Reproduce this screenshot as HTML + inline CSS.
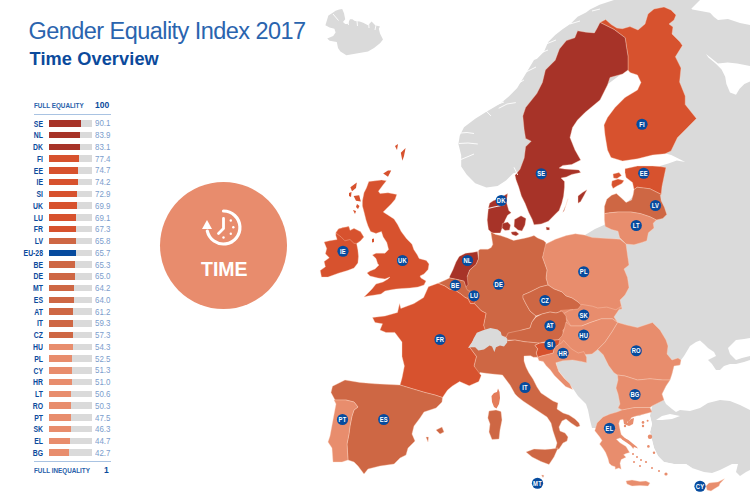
<!DOCTYPE html>
<html><head><meta charset="utf-8"><style>
html,body{margin:0;padding:0;background:#fff;}
body{width:750px;height:500px;position:relative;overflow:hidden;font-family:"Liberation Sans",sans-serif;}
.t1{position:absolute;left:28.5px;top:17.7px;font-size:23.5px;color:#2a64ae;white-space:nowrap;letter-spacing:-0.55px;}
.t2{position:absolute;left:29.5px;top:48.6px;font-size:18.2px;font-weight:bold;color:#0b4a9c;white-space:nowrap;letter-spacing:0.1px;}
.fe{position:absolute;left:34px;font-size:7px;font-weight:bold;color:#2860aa;white-space:nowrap;transform:scaleX(0.9);transform-origin:0 0;}
.fv{position:absolute;font-size:8.5px;font-weight:bold;color:#0b4a9c;}
.hl{position:absolute;left:34px;width:77px;height:1px;background:#a9c3e2;}
.rl{position:absolute;left:2.5px;width:40px;text-align:right;font-size:8.8px;font-weight:bold;color:#0b4a9c;white-space:nowrap;transform:scaleX(0.78);transform-origin:100% 0;}
.bg{position:absolute;left:48.7px;width:42.9px;height:6.5px;background:#dadada;}
.bf{position:absolute;left:48.7px;height:6.5px;}
.rv{position:absolute;left:95px;font-size:9px;color:#7b9dcc;transform:scaleX(0.88);transform-origin:0 0;}
.circ{position:absolute;left:159.5px;top:181.5px;width:127.6px;height:127.6px;border-radius:50%;background:#e88c6d;}
.time{position:absolute;left:201px;top:258px;font-size:19.5px;font-weight:bold;color:#fff;}
svg{position:absolute;left:0;top:0;}
.lb{font-family:"Liberation Sans",sans-serif;font-size:7.3px;letter-spacing:0.2px;font-weight:bold;fill:#fff;text-anchor:middle;}
</style></head><body>
<div class="t1">Gender Equality Index 2017</div>
<div class="t2">Time Overview</div>
<div class="fe" style="top:102px">FULL EQUALITY</div>
<div class="fv" style="left:95px;top:100px">100</div>
<div class="hl" style="top:114px"></div>
<div class="rl" style="top:118.50px">SE</div><div class="bg" style="top:120.10px"></div><div class="bf" style="top:120.10px;width:32.10px;background:#a73328"></div><div class="rv" style="top:118.40px">90.1</div><div class="rl" style="top:130.26px">NL</div><div class="bg" style="top:131.86px"></div><div class="bf" style="top:131.86px;width:31.50px;background:#a73328"></div><div class="rv" style="top:130.16px">83.9</div><div class="rl" style="top:142.03px">DK</div><div class="bg" style="top:143.63px"></div><div class="bf" style="top:143.63px;width:30.90px;background:#a73328"></div><div class="rv" style="top:141.93px">83.1</div><div class="rl" style="top:153.79px">FI</div><div class="bg" style="top:155.39px"></div><div class="bf" style="top:155.39px;width:30.35px;background:#d7522e"></div><div class="rv" style="top:153.69px">77.4</div><div class="rl" style="top:165.56px">EE</div><div class="bg" style="top:167.16px"></div><div class="bf" style="top:167.16px;width:29.50px;background:#d7522e"></div><div class="rv" style="top:165.46px">74.7</div><div class="rl" style="top:177.32px">IE</div><div class="bg" style="top:178.92px"></div><div class="bf" style="top:178.92px;width:29.00px;background:#d7522e"></div><div class="rv" style="top:177.22px">74.2</div><div class="rl" style="top:189.08px">SI</div><div class="bg" style="top:190.68px"></div><div class="bf" style="top:190.68px;width:28.40px;background:#d7522e"></div><div class="rv" style="top:188.98px">72.9</div><div class="rl" style="top:200.85px">UK</div><div class="bg" style="top:202.45px"></div><div class="bf" style="top:202.45px;width:28.10px;background:#d7522e"></div><div class="rv" style="top:200.75px">69.9</div><div class="rl" style="top:212.61px">LU</div><div class="bg" style="top:214.21px"></div><div class="bf" style="top:214.21px;width:27.60px;background:#d7522e"></div><div class="rv" style="top:212.51px">69.1</div><div class="rl" style="top:224.38px">FR</div><div class="bg" style="top:225.98px"></div><div class="bf" style="top:225.98px;width:27.50px;background:#d7522e"></div><div class="rv" style="top:224.28px">67.3</div><div class="rl" style="top:236.14px">LV</div><div class="bg" style="top:237.74px"></div><div class="bf" style="top:237.74px;width:27.30px;background:#ce6744"></div><div class="rv" style="top:236.04px">65.8</div><div class="rl" style="top:247.90px">EU-28</div><div class="bg" style="top:249.50px"></div><div class="bf" style="top:249.50px;width:27.20px;background:#064b9e"></div><div class="rv" style="top:247.80px">65.7</div><div class="rl" style="top:259.67px">BE</div><div class="bg" style="top:261.27px"></div><div class="bf" style="top:261.27px;width:26.40px;background:#ce6744"></div><div class="rv" style="top:259.57px">65.3</div><div class="rl" style="top:271.43px">DE</div><div class="bg" style="top:273.03px"></div><div class="bf" style="top:273.03px;width:26.10px;background:#ce6744"></div><div class="rv" style="top:271.33px">65.0</div><div class="rl" style="top:283.20px">MT</div><div class="bg" style="top:284.80px"></div><div class="bf" style="top:284.80px;width:25.50px;background:#ce6744"></div><div class="rv" style="top:283.10px">64.2</div><div class="rl" style="top:294.96px">ES</div><div class="bg" style="top:296.56px"></div><div class="bf" style="top:296.56px;width:25.30px;background:#ce6744"></div><div class="rv" style="top:294.86px">64.0</div><div class="rl" style="top:306.72px">AT</div><div class="bg" style="top:308.32px"></div><div class="bf" style="top:308.32px;width:24.70px;background:#ce6744"></div><div class="rv" style="top:306.62px">61.2</div><div class="rl" style="top:318.49px">IT</div><div class="bg" style="top:320.09px"></div><div class="bf" style="top:320.09px;width:24.30px;background:#ce6744"></div><div class="rv" style="top:318.39px">59.3</div><div class="rl" style="top:330.25px">CZ</div><div class="bg" style="top:331.85px"></div><div class="bf" style="top:331.85px;width:24.00px;background:#ce6744"></div><div class="rv" style="top:330.15px">57.3</div><div class="rl" style="top:342.02px">HU</div><div class="bg" style="top:343.62px"></div><div class="bf" style="top:343.62px;width:24.00px;background:#e88d6d"></div><div class="rv" style="top:341.92px">54.3</div><div class="rl" style="top:353.78px">PL</div><div class="bg" style="top:355.38px"></div><div class="bf" style="top:355.38px;width:23.50px;background:#e88d6d"></div><div class="rv" style="top:353.68px">52.5</div><div class="rl" style="top:365.54px">CY</div><div class="bg" style="top:367.14px"></div><div class="bf" style="top:367.14px;width:23.50px;background:#e88d6d"></div><div class="rv" style="top:365.44px">51.3</div><div class="rl" style="top:377.31px">HR</div><div class="bg" style="top:378.91px"></div><div class="bf" style="top:378.91px;width:23.20px;background:#e88d6d"></div><div class="rv" style="top:377.21px">51.0</div><div class="rl" style="top:389.07px">LT</div><div class="bg" style="top:390.67px"></div><div class="bf" style="top:390.67px;width:22.60px;background:#e88d6d"></div><div class="rv" style="top:388.97px">50.6</div><div class="rl" style="top:400.84px">RO</div><div class="bg" style="top:402.44px"></div><div class="bf" style="top:402.44px;width:22.60px;background:#e88d6d"></div><div class="rv" style="top:400.74px">50.3</div><div class="rl" style="top:412.60px">PT</div><div class="bg" style="top:414.20px"></div><div class="bf" style="top:414.20px;width:22.35px;background:#e88d6d"></div><div class="rv" style="top:412.50px">47.5</div><div class="rl" style="top:424.36px">SK</div><div class="bg" style="top:425.96px"></div><div class="bf" style="top:425.96px;width:22.10px;background:#e88d6d"></div><div class="rv" style="top:424.26px">46.3</div><div class="rl" style="top:436.13px">EL</div><div class="bg" style="top:437.73px"></div><div class="bf" style="top:437.73px;width:21.20px;background:#e88d6d"></div><div class="rv" style="top:436.03px">44.7</div><div class="rl" style="top:447.89px">BG</div><div class="bg" style="top:449.49px"></div><div class="bf" style="top:449.49px;width:20.50px;background:#e88d6d"></div><div class="rv" style="top:447.79px">42.7</div>
<div class="hl" style="top:461px"></div>
<div class="fe" style="top:467px">FULL INEQUALITY</div>
<div class="fv" style="left:104px;top:465px">1</div>
<div class="circ"></div>
<svg width="750" height="500" viewBox="0 0 750 500">
<g fill="none" stroke="#fff" stroke-width="3.2" stroke-linecap="round">
<path d="M223.5 211 A16.5 16.5 0 1 1 207.3 231"/>
<path d="M223.5 218.5 V228.5 L218.5 233.5" stroke-width="2.8" stroke-linejoin="round"/>
</g>
<polygon points="207,220 202,229 212,229" fill="#fff"/>
<g fill="#fff"><circle cx="230.8" cy="220.5" r="1.2"/><circle cx="233.3" cy="227.2" r="1.2"/><circle cx="230.8" cy="233.8" r="1.2"/><circle cx="223.5" cy="237.5" r="1.2"/></g>
<polygon points="325.4,25.2 328.4,15.6 332.0,13.2 335.6,10.8 339.2,9.6 342.2,9.0 344.0,13.2 345.2,19.2 343.0,22.0 345.2,24.0 347.6,24.0 350.0,19.2 352.4,19.2 354.8,21.0 359.6,21.6 363.2,22.8 368.0,25.2 371.6,21.6 375.2,25.2 380.0,26.4 378.8,28.8 380.0,33.6 383.0,39.6 380.0,43.2 374.0,48.0 368.0,51.6 360.8,52.8 353.6,54.0 346.4,55.2 340.4,51.6 338.0,48.0 336.8,42.0 329.6,40.8 327.2,38.4 333.2,36.0 335.6,32.4 334.4,28.8 329.6,27.6" fill="#dadada"/><polygon points="517.2,172.0 513.0,173.4 506.0,180.4 497.6,186.0 486.4,187.4 475.2,183.2 466.8,174.8 461.2,166.4 461.2,155.2 458.4,144.0 459.8,135.6 464.0,127.2 475.2,118.8 486.4,111.8 500.4,103.4 508.8,96.4 517.2,88.0 525.6,74.0 534.0,60.0 537.0,58.8 544.0,51.8 548.2,42.0 555.2,35.0 562.2,29.4 570.6,23.8 577.6,16.8 586.0,12.6 590.0,9.6 599.6,4.8 614.0,0.0 700.0,0.0 640.0,60.0 560.0,120.0 530.0,160.0" fill="#dadada"/><polygon points="670.0,0.0 686.0,0.0 686.0,4.8 692.4,9.6 702.0,11.2 710.0,12.8 714.0,17.0 718.0,20.0 728.0,19.0 740.0,23.0 750.0,25.0 750.0,470.0 746.0,472.0 740.0,476.0 736.0,472.0 738.0,464.0 732.0,464.0 720.0,470.0 712.0,473.0 704.0,472.0 692.0,468.0 686.0,464.0 674.0,464.0 664.0,462.0 658.0,456.0 654.0,448.0 652.0,440.0 650.0,432.0 652.0,424.0 650.0,416.0 640.0,420.0 600.0,437.0 596.0,428.0 592.0,428.0 590.0,420.0 588.0,410.0 586.0,404.0 578.0,396.0 574.0,390.0 566.0,380.0 558.0,370.0 556.0,362.0 575.0,352.0 598.0,340.0 598.0,300.0 605.0,260.0 600.0,239.0 585.0,239.0 585.0,235.0 595.0,229.0 604.0,225.0 620.0,210.0 660.0,168.0 660.0,166.0 668.4,163.4 676.8,160.5 685.2,162.0 676.8,157.8 671.2,155.0 660.0,152.0 670.0,100.0 650.0,40.0 640.0,20.0 660.0,0.0" fill="#dadada"/><polygon points="706.0,54.0 712.0,58.8 718.0,63.6 727.6,62.4 737.2,63.6 750.0,66.0 750.0,81.6 744.4,84.0 739.6,88.8 736.0,94.8 730.0,92.4 726.4,84.0 725.2,76.8 721.6,69.6 715.6,63.6 708.4,57.6" fill="#ffffff"/><polygon points="681.0,360.0 684.0,356.0 690.0,346.0 696.0,342.0 700.0,340.5 704.0,344.0 708.0,348.0 714.0,352.0 716.0,356.0 708.0,360.0 712.0,364.0 716.0,370.0 720.0,370.0 724.0,366.0 730.0,364.0 736.0,364.0 744.0,362.0 750.0,360.0 750.0,410.0 740.0,405.0 730.0,401.0 720.0,400.0 708.0,403.0 700.0,408.0 690.0,411.0 680.0,410.0 676.0,412.0 672.0,409.0 666.0,404.0 664.0,400.0 662.0,394.0 666.0,386.0 670.0,380.0 672.0,374.0 674.0,366.0 680.0,365.0" fill="#ffffff"/><polygon points="728.0,348.0 736.0,340.0 744.0,339.0 750.0,338.0 750.0,356.0 742.0,358.0 736.0,360.0 730.0,354.0" fill="#ffffff"/><polygon points="656.0,420.0 662.0,416.0 670.0,414.0 680.0,416.0 672.0,419.0 662.0,420.0" fill="#ffffff"/><polygon points="652.0,406.0 650.0,416.0 652.0,424.0 650.0,432.0 652.0,440.0 654.0,448.0 658.0,456.0 664.0,462.0 674.0,464.0 686.0,464.0 692.0,468.0 690.0,500.0 600.0,500.0 600.0,440.0 615.0,425.0 618.0,416.0 640.0,416.0" fill="#ffffff"/><polygon points="600.0,22.4 605.6,19.6 611.2,24.5 616.8,28.0 622.4,28.7 630.0,26.6 638.0,30.0 645.0,24.0 648.0,14.0 654.0,9.0 664.0,7.0 671.0,10.0 676.0,15.0 674.0,20.0 669.0,24.0 673.0,27.0 672.0,34.0 680.0,42.0 682.4,45.6 675.4,56.8 681.0,68.0 679.6,82.0 685.2,96.0 685.2,104.5 696.4,118.5 687.5,127.5 677.5,137.5 671.0,151.0 665.0,153.8 652.5,155.0 637.5,158.8 622.5,161.0 611.0,157.5 607.5,150.0 605.0,135.0 604.0,125.0 607.5,117.5 615.0,107.5 625.0,97.5 637.5,90.0 641.0,82.5 637.5,75.0 630.0,72.5 628.0,70.0 628.0,56.0 626.6,47.6 625.2,37.8 614.0,29.4" fill="#d7522e" stroke="rgba(255,215,195,0.42)" stroke-width="0.85"/><polygon points="600.0,22.4 614.0,29.4 625.2,37.8 626.6,47.6 628.0,56.0 628.0,70.0 622.5,74.0 610.0,77.5 607.5,85.0 605.0,90.0 600.0,100.0 585.0,112.5 577.5,120.0 572.5,127.5 570.0,137.5 575.0,150.0 580.7,160.0 571.7,164.5 562.8,165.4 559.1,168.1 564.5,169.0 578.9,169.9 580.7,172.6 571.7,174.4 566.3,177.0 561.0,178.0 564.5,181.6 564.5,187.0 563.6,196.0 561.8,203.2 559.1,210.4 555.5,214.0 548.4,221.2 541.2,223.9 534.0,224.8 532.2,219.4 528.6,212.2 525.0,203.2 521.4,196.0 518.7,187.0 516.0,179.8 515.0,175.3 518.7,170.8 520.0,169.2 524.2,158.0 525.6,146.8 531.2,141.2 525.6,138.4 524.2,130.0 522.8,116.0 525.6,107.6 536.8,93.6 542.4,82.4 545.4,70.0 555.2,60.2 559.4,49.0 566.4,40.6 574.8,37.8 577.6,30.8 586.0,32.2 594.4,32.9 597.2,28.0" fill="#a73328" stroke="rgba(255,215,195,0.42)" stroke-width="0.85"/><polygon points="578.0,196.0 582.5,192.4 587.0,189.7 584.3,195.0 580.7,201.4 578.0,203.2" fill="#a73328" stroke="rgba(255,215,195,0.42)" stroke-width="0.85"/><polygon points="568.0,198.7 566.0,205.0 562.8,212.2 564.0,211.0" fill="#a73328" stroke="rgba(255,215,195,0.42)" stroke-width="0.85"/><polygon points="489.6,203.2 493.2,200.8 500.0,198.0 507.6,193.6 506.4,202.0 508.8,210.4 511.2,212.8 507.6,215.2 505.2,220.0 502.8,226.0 500.4,233.0 492.0,233.0 488.4,229.6 487.2,220.0 488.4,208.0" fill="#a73328" stroke="rgba(255,215,195,0.42)" stroke-width="0.85"/><polygon points="502.5,223.5 507.6,222.0 510.5,225.0 509.5,230.0 505.0,230.5 502.0,228.0" fill="#a73328" stroke="rgba(255,215,195,0.42)" stroke-width="0.85"/><polygon points="514.5,219.5 521.0,215.8 526.0,218.5 525.0,225.0 522.0,231.0 518.0,230.0 514.0,226.5" fill="#a73328" stroke="rgba(255,215,195,0.42)" stroke-width="0.85"/><polygon points="511.0,232.0 516.0,231.5 519.0,234.0 516.0,236.0 512.0,234.5" fill="#a73328" stroke="rgba(255,215,195,0.42)" stroke-width="0.85"/><polygon points="546.0,227.0 549.5,227.5 549.5,230.0 546.5,230.0" fill="#a73328" stroke="rgba(255,215,195,0.42)" stroke-width="0.85"/><polygon points="625.0,168.8 637.5,166.0 652.5,166.0 660.0,166.5 666.0,167.5 662.0,186.4 661.2,194.4 650.0,188.8 637.2,187.2 634.0,189.6 632.5,182.5 626.0,177.5 625.0,172.5" fill="#d7522e" stroke="rgba(255,215,195,0.42)" stroke-width="0.85"/><polygon points="612.0,181.0 618.0,179.0 624.0,180.5 622.0,183.5 617.0,186.0 613.0,188.5 611.5,185.0" fill="#d7522e" stroke="rgba(255,215,195,0.42)" stroke-width="0.85"/><polygon points="613.0,174.0 619.0,172.5 621.5,175.5 617.0,178.5 613.5,178.0" fill="#d7522e" stroke="rgba(255,215,195,0.42)" stroke-width="0.85"/><polygon points="604.4,206.4 606.8,199.2 611.6,195.2 616.4,193.6 622.8,199.2 626.0,202.4 631.6,200.0 633.2,194.4 634.0,189.6 637.2,187.2 650.0,188.8 661.2,194.4 660.4,195.2 661.2,200.8 664.4,207.2 666.8,214.4 662.8,218.4 656.4,220.0 650.0,216.8 640.4,213.6 630.8,212.0 618.0,212.0 610.0,212.8 604.4,213.6" fill="#ce6744" stroke="rgba(255,215,195,0.42)" stroke-width="0.85"/><polygon points="604.4,213.6 610.0,212.8 618.0,212.0 630.8,212.0 640.4,213.6 650.0,216.8 656.4,220.0 653.2,223.2 654.0,228.0 648.4,232.8 646.8,240.8 642.0,242.4 634.0,244.8 626.0,244.0 619.6,237.6 618.0,231.2 611.6,229.6 605.2,226.4 604.4,220.0" fill="#e88d6d" stroke="rgba(255,215,195,0.42)" stroke-width="0.85"/><polygon points="544.8,244.6 555.5,239.2 566.3,235.6 575.3,233.8 584.3,235.0 592.4,237.6 620.0,239.2 626.0,244.0 627.5,255.0 629.0,265.0 624.0,269.0 627.5,277.5 629.0,287.5 625.0,295.0 620.0,300.0 622.0,309.0 612.0,311.0 600.0,310.0 590.0,308.0 582.0,308.0 578.0,302.0 572.0,298.0 566.0,296.0 562.0,292.0 554.0,289.0 548.0,285.0 546.0,278.0 547.0,270.0 542.5,257.5" fill="#e88d6d" stroke="rgba(255,215,195,0.42)" stroke-width="0.85"/><polygon points="478.4,250.8 480.0,249.2 488.0,249.2 491.2,247.6 492.8,244.4 490.8,232.0 495.6,234.4 500.4,235.6 507.6,238.0 513.6,240.4 519.6,239.2 525.6,238.0 530.4,236.8 534.0,235.6 537.6,238.0 543.6,240.4 546.0,242.8 542.5,257.5 547.0,270.0 546.0,278.0 548.0,285.0 540.0,287.0 530.0,292.0 523.0,295.0 523.0,298.0 526.0,304.0 530.0,311.0 536.0,316.0 532.0,322.0 530.0,328.0 522.0,330.0 509.0,337.0 500.0,337.0 490.0,337.0 486.0,336.0 483.6,325.2 486.0,313.2 481.2,310.8 474.4,303.6 468.0,298.8 464.0,292.0 462.0,282.0 467.2,276.4 469.6,270.0 476.0,264.4 478.4,258.8" fill="#ce6744" stroke="rgba(255,215,195,0.42)" stroke-width="0.85"/><polygon points="449.6,276.4 452.8,270.0 456.0,262.0 459.2,256.4 465.6,253.2 472.0,252.4 477.6,251.6 478.4,258.8 476.0,264.4 469.6,270.0 467.2,276.4 468.0,284.4 465.6,287.6 464.0,281.2 457.6,279.6 449.6,278.0" fill="#a73328" stroke="rgba(255,215,195,0.42)" stroke-width="0.85"/><polygon points="438.0,283.2 446.4,279.6 449.6,278.0 457.6,279.6 464.0,281.2 466.4,288.4 468.0,290.8 469.6,290.8 468.8,295.6 468.0,298.8 464.8,297.2 460.8,294.0 456.0,290.8 449.6,289.2 444.8,286.0" fill="#ce6744" stroke="rgba(255,215,195,0.42)" stroke-width="0.85"/><polygon points="468.0,298.8 468.8,294.0 471.2,290.8 474.4,294.0 476.0,298.8 474.4,303.6 470.4,303.6" fill="#d7522e" stroke="rgba(255,215,195,0.42)" stroke-width="0.85"/><polygon points="523.0,295.0 530.0,292.0 540.0,287.0 548.0,285.0 554.0,289.0 562.0,292.0 566.0,296.0 572.0,298.0 578.0,302.0 582.0,306.0 578.0,310.0 570.0,312.0 562.0,311.0 556.0,313.0 550.0,312.0 542.0,314.0 536.0,316.0 530.0,311.0 526.0,304.0 523.0,298.0" fill="#ce6744" stroke="rgba(255,215,195,0.42)" stroke-width="0.85"/><polygon points="560.0,310.0 573.0,309.0 575.0,328.0 560.0,336.0" fill="#e88d6d"/><polygon points="563.0,314.0 570.0,310.0 578.0,309.0 581.6,304.4 592.4,306.2 597.8,308.0 606.8,307.1 615.9,309.8 621.3,306.2 614.0,317.0 617.7,322.4 612.3,318.8 601.4,318.8 590.6,322.4 581.6,326.0 570.8,326.0 567.2,320.0" fill="#e88d6d" stroke="rgba(255,215,195,0.42)" stroke-width="0.85"/><polygon points="505.0,340.0 508.0,333.0 522.0,330.0 530.0,328.0 532.0,322.0 536.0,317.0 542.0,314.0 550.0,312.0 556.0,313.0 562.0,311.0 566.0,316.0 567.0,325.0 562.8,330.6 564.2,336.2 560.0,339.7 550.2,340.4 539.0,343.2 533.4,342.5 525.0,341.8 515.0,340.0" fill="#ce6744" stroke="rgba(255,215,195,0.42)" stroke-width="0.85"/><polygon points="566.0,322.0 570.8,326.0 581.6,326.0 590.6,322.4 601.4,318.8 612.3,318.8 617.7,322.4 612.3,331.4 605.0,342.2 597.8,349.4 592.0,354.0 580.0,355.0 570.0,351.0 558.0,346.0 558.0,340.0 562.0,336.0 564.0,330.0" fill="#e88d6d" stroke="rgba(255,215,195,0.42)" stroke-width="0.85"/><polygon points="617.7,322.4 626.7,325.1 637.5,327.5 652.5,322.5 660.0,330.0 666.0,340.0 668.0,346.0 667.0,354.0 672.0,360.0 678.0,358.0 681.0,360.0 680.0,365.0 674.0,366.0 672.0,374.0 670.0,380.0 662.5,380.0 650.0,378.8 637.5,380.0 625.0,376.0 617.5,375.0 614.0,372.8 608.6,365.6 603.2,354.8 597.8,349.4 605.0,342.2 612.3,331.4" fill="#e88d6d" stroke="rgba(255,215,195,0.42)" stroke-width="0.85"/><polygon points="617.5,375.0 625.0,376.0 637.5,380.0 650.0,378.8 662.5,380.0 670.0,380.0 666.0,386.0 662.0,394.0 664.0,400.0 660.0,402.0 652.0,406.0 650.0,407.5 635.0,407.5 622.0,410.0 618.0,408.0 620.0,404.0 618.0,394.0 616.0,388.0 618.0,380.0" fill="#e88d6d" stroke="rgba(255,215,195,0.42)" stroke-width="0.85"/><polygon points="597.0,423.0 603.0,417.0 610.0,414.0 617.0,412.0 622.0,410.0 635.0,407.5 650.0,407.5 652.0,412.0 642.8,414.4 636.4,416.0 631.6,417.6 628.4,422.4 623.6,419.2 620.0,420.0 618.8,423.6 620.0,429.6 621.2,434.4 624.8,438.0 629.6,441.6 634.4,446.4 633.2,448.8 629.6,444.0 624.8,440.4 620.0,438.0 616.4,439.2 620.0,442.8 626.0,446.4 629.6,452.4 626.0,453.6 623.6,454.8 626.0,457.2 621.2,459.6 620.0,463.2 621.2,469.2 618.8,468.0 615.2,469.2 615.2,466.8 611.6,465.6 609.2,463.2 608.0,458.4 605.6,452.4 603.2,448.8 599.6,444.0 602.0,440.4 599.6,436.8 594.8,430.8" fill="#e88d6d" stroke="rgba(255,215,195,0.42)" stroke-width="0.85"/><polygon points="626.0,481.0 632.0,480.0 640.0,481.5 646.0,481.0 650.0,483.0 648.0,486.0 640.0,485.5 632.0,486.0 627.0,484.0" fill="#e88d6d" stroke="rgba(255,215,195,0.42)" stroke-width="0.85"/><polygon points="620.4,436.0 628.4,440.0 636.4,446.4 638.0,448.5 631.6,446.0 622.0,439.5" fill="#e88d6d"/><polygon points="623.0,418.0 628.0,417.0 627.0,423.0 631.0,419.0 634.0,418.0 633.0,424.0 629.0,426.0 624.0,424.0" fill="#e88d6d"/><circle cx="650" cy="436.8" r="2.2" fill="#e88d6d"/><circle cx="648.4" cy="446.4" r="1.3" fill="#e88d6d"/><circle cx="654" cy="452.8" r="1.2" fill="#e88d6d"/><circle cx="633" cy="454" r="1" fill="#e88d6d"/><circle cx="637" cy="457" r="1" fill="#e88d6d"/><circle cx="641" cy="460" r="1" fill="#e88d6d"/><circle cx="634" cy="462" r="1" fill="#e88d6d"/><circle cx="646" cy="462" r="1.1" fill="#e88d6d"/><circle cx="640" cy="466" r="1" fill="#e88d6d"/><circle cx="666" cy="474" r="1.6" fill="#e88d6d"/><circle cx="643" cy="422.4" r="1.3" fill="#e88d6d"/><circle cx="647.6" cy="420.8" r="1" fill="#e88d6d"/><circle cx="643" cy="426" r="1.2" fill="#e88d6d"/><circle cx="625" cy="426" r="1.2" fill="#e88d6d"/><circle cx="630" cy="424" r="1.2" fill="#e88d6d"/><circle cx="659" cy="471" r="1" fill="#e88d6d"/><circle cx="652" cy="468" r="1" fill="#e88d6d"/><polygon points="706.0,486.0 709.0,483.0 713.0,482.5 718.0,482.0 721.0,480.5 724.5,478.7 720.0,483.5 719.0,486.0 714.0,489.0 711.0,491.0 707.0,490.0" fill="#e88d6d" stroke="rgba(255,215,195,0.42)" stroke-width="0.85"/><polygon points="537.6,357.2 541.8,355.8 547.4,354.4 553.0,353.0 554.4,347.4 558.6,344.6 561.4,343.2 563.6,340.4 571.2,348.8 578.2,353.0 583.8,351.6 586.6,357.2 586.6,362.8 581.0,361.4 572.6,360.0 562.8,360.7 555.8,362.8 558.6,371.2 564.2,378.2 569.8,383.8 572.6,389.4 565.6,386.6 560.0,381.0 554.4,375.4 550.2,369.8 546.0,365.6 543.2,361.4 539.0,360.7" fill="#e88d6d" stroke="rgba(255,215,195,0.42)" stroke-width="0.85"/><polygon points="534.8,345.3 539.0,343.2 546.0,342.5 550.2,340.4 560.0,339.7 558.6,344.6 554.4,347.4 553.0,353.0 547.4,354.4 541.8,355.8 537.6,357.2 536.2,353.0 537.6,348.8" fill="#d7522e" stroke="rgba(255,215,195,0.42)" stroke-width="0.85"/><polygon points="469.2,346.8 475.0,340.0 490.0,337.0 505.0,337.0 507.8,340.8 515.0,340.0 525.0,341.8 533.4,342.5 539.0,343.2 534.8,345.3 537.6,348.8 536.2,353.0 537.6,357.2 533.4,357.2 530.6,355.8 524.0,356.0 524.0,361.0 526.0,367.0 529.0,373.0 533.0,379.0 537.0,387.0 541.0,393.0 547.0,397.0 553.0,401.0 558.0,403.0 557.0,409.0 563.0,413.0 569.0,415.0 575.0,419.0 579.0,423.0 580.0,426.0 577.0,427.0 571.0,423.0 566.0,419.0 562.0,421.0 559.0,427.0 560.0,431.0 565.0,433.0 568.0,437.0 567.0,441.0 563.0,443.0 559.0,449.0 555.0,450.0 557.0,443.0 555.0,437.0 553.0,431.0 551.0,423.0 547.0,417.0 541.0,413.0 535.0,409.0 529.0,405.0 523.0,401.0 518.0,397.0 515.0,394.0 510.0,385.0 502.5,375.0 490.0,373.8 480.0,372.5 475.0,380.0 477.0,372.0 474.0,366.0 476.4,356.4" fill="#ce6744" stroke="rgba(255,215,195,0.42)" stroke-width="0.85"/><polygon points="526.0,452.0 534.0,449.0 545.0,449.5 551.0,449.0 558.0,448.0 554.0,457.0 549.0,464.5 541.0,461.5 532.0,457.0" fill="#ce6744" stroke="rgba(255,215,195,0.42)" stroke-width="0.85"/><polygon points="489.0,411.0 496.0,410.0 501.0,411.5 502.0,420.0 500.0,430.0 499.0,439.0 492.0,439.5 489.0,432.0 490.0,424.0 487.8,418.0" fill="#ce6744" stroke="rgba(255,215,195,0.42)" stroke-width="0.85"/><polygon points="498.0,388.5 499.5,392.0 500.0,398.0 499.0,404.0 496.5,408.5 494.0,407.0 492.0,402.0 491.5,396.0 494.0,393.0 497.0,392.0" fill="#e47c5a"/><polygon points="541.5,475.0 544.0,475.5 543.0,477.5" fill="#ce6744" stroke="rgba(255,215,195,0.42)" stroke-width="0.85"/><polygon points="399.6,303.6 400.8,308.4 414.0,303.6 423.6,297.6 428.4,286.8 438.0,283.2 444.8,286.0 449.6,289.2 456.0,290.8 460.8,294.0 464.8,297.2 468.0,298.8 470.4,303.6 474.4,303.6 481.2,310.8 486.0,313.2 483.6,325.2 486.0,332.4 474.0,339.6 469.2,346.8 476.4,356.4 474.0,366.0 481.2,375.6 478.8,381.6 469.2,385.8 459.6,381.6 452.4,386.0 447.6,390.0 442.5,397.5 435.0,395.0 425.0,392.5 412.5,388.8 400.0,385.0 402.0,378.0 404.4,366.0 402.0,356.4 402.0,342.0 394.8,332.4 386.0,332.5 380.0,330.0 382.5,323.8 375.0,322.5 372.5,317.5 385.0,316.0 397.5,312.5" fill="#d7522e" stroke="rgba(255,215,195,0.42)" stroke-width="0.85"/><polygon points="332.5,386.2 345.0,380.0 360.0,382.5 375.0,383.8 400.0,385.0 412.5,388.8 425.0,392.5 435.0,395.0 442.5,397.5 442.0,402.0 436.0,408.0 424.0,412.0 420.0,418.0 414.0,426.0 412.0,434.0 415.0,441.0 408.0,448.0 406.0,455.0 400.0,458.0 394.0,464.0 380.0,466.0 368.0,469.0 364.0,474.0 358.0,466.0 354.0,462.0 348.0,460.0 347.0,444.0 349.0,434.0 350.0,426.0 352.0,416.0 354.0,410.0 358.0,407.0 354.0,402.0 346.0,400.0 335.0,400.0 331.0,392.5" fill="#ce6744" stroke="rgba(255,215,195,0.42)" stroke-width="0.85"/><polygon points="334.0,400.0 346.0,400.0 354.0,402.0 358.0,407.0 354.0,410.0 352.0,416.0 350.0,426.0 349.0,434.0 347.0,444.0 348.0,460.0 342.0,462.0 333.0,462.0 332.0,448.0 328.0,442.0 330.0,436.0 336.0,404.0" fill="#e88d6d" stroke="rgba(255,215,195,0.42)" stroke-width="0.85"/><polygon points="436.0,430.0 442.0,427.0 444.0,432.0 440.0,434.0" fill="#ce6744" stroke="rgba(255,215,195,0.42)" stroke-width="0.85"/><polygon points="426.0,437.0 428.5,437.0 428.0,442.0" fill="#ce6744" stroke="rgba(255,215,195,0.42)" stroke-width="0.85"/><polygon points="368.8,181.6 375.2,180.8 381.6,180.0 386.4,180.8 383.2,184.8 378.4,191.2 380.0,193.6 388.0,192.8 396.8,194.4 395.2,199.2 391.2,204.0 386.4,208.8 383.2,212.0 388.6,215.4 394.0,219.0 397.6,224.4 401.2,231.6 406.6,238.8 412.0,244.2 413.8,249.6 417.4,255.0 419.1,258.6 426.3,260.4 429.0,264.0 428.1,269.4 424.0,274.0 420.0,276.0 421.0,278.0 426.0,281.0 424.0,285.0 418.0,287.0 410.0,288.0 402.0,288.5 396.0,289.0 390.0,290.0 385.0,291.0 381.0,294.0 375.0,295.0 368.0,296.0 364.0,297.0 366.0,295.0 372.0,289.0 376.0,284.0 383.0,282.0 388.0,279.0 390.0,277.0 385.0,279.0 378.0,278.0 370.0,276.0 367.0,273.0 370.0,271.0 375.0,269.0 379.0,265.0 377.8,264.0 376.0,258.6 372.4,255.0 376.0,253.2 385.0,253.2 388.6,249.6 386.8,242.4 383.2,237.0 381.4,231.6 376.0,233.4 370.6,231.6 368.0,226.0 366.0,220.0 364.0,212.0 362.4,206.0 362.4,200.8 364.0,192.8 366.4,188.0" fill="#d7522e" stroke="rgba(255,215,195,0.42)" stroke-width="0.85"/><polygon points="350.4,187.2 356.8,182.4 356.0,188.0 352.0,191.2" fill="#d7522e"/><polygon points="353.6,196.0 359.2,195.2 360.8,201.6 356.0,200.8" fill="#d7522e"/><polygon points="383.2,173.6 388.0,170.4 391.2,170.4 388.0,176.8" fill="#d7522e"/><polygon points="400.8,152.8 405.6,148.0 404.0,156.0 402.4,160.8" fill="#d7522e"/><polygon points="372.0,239.0 374.0,238.5 374.0,242.0 372.0,242.5" fill="#d7522e"/><polygon points="357.0,204.0 359.5,206.0 358.0,209.0 356.0,207.0" fill="#d7522e"/><polygon points="353.0,210.0 356.0,211.0 355.0,214.0" fill="#d7522e"/><polygon points="349.0,193.0 351.5,192.0 351.0,197.0 349.0,196.0" fill="#d7522e"/><polygon points="395.0,146.0 398.0,144.0 397.0,150.0" fill="#d7522e"/><polygon points="335.8,233.0 338.4,229.1 342.3,227.8 348.8,226.5 350.0,230.4 354.0,228.4 360.5,231.7 363.7,236.9 360.5,240.8 356.6,243.4 357.9,249.9 358.5,256.4 357.9,262.9 354.0,268.1 347.5,270.6 338.4,273.2 328.0,277.1 321.5,277.1 320.2,270.6 325.4,266.8 324.1,261.6 329.3,257.7 325.4,253.8 326.7,248.6 324.1,242.1 329.3,240.8 337.1,239.5 335.8,235.6" fill="#d7522e" stroke="rgba(255,215,195,0.42)" stroke-width="0.85"/><polygon points="338.4,229.1 342.3,227.8 348.8,226.5 350.0,230.4 354.0,228.4 360.5,231.7 363.7,236.9 360.5,240.8 356.6,243.4 354.0,243.4 350.0,239.5 344.9,240.8 341.0,236.9 335.8,233.0" fill="#d7522e" stroke="rgba(255,215,195,0.42)" stroke-width="0.85"/><polygon points="468.0,348.0 472.0,342.4 473.6,338.4 476.8,332.8 482.4,330.4 490.4,328.0 497.6,329.6 500.8,332.0 501.6,335.2 507.2,338.4 507.2,342.4 504.0,346.4 500.0,345.6 496.0,347.2 494.4,352.0 492.0,346.4 489.6,345.6 484.0,349.6 478.4,350.4 475.2,347.2 471.2,347.2" fill="#dadada"/><polyline points="458.8,143.5 468.0,143.0 477.8,144.0" fill="none" stroke="#fff" stroke-width="0.9"/><polyline points="460.7,159.6 467.0,157.0 474.0,154.0" fill="none" stroke="#fff" stroke-width="0.9"/><polyline points="460.7,133.0 467.0,132.5 474.0,133.5" fill="none" stroke="#fff" stroke-width="0.9"/><polyline points="485.4,110.2 491.0,116.0" fill="none" stroke="#fff" stroke-width="0.9"/><polyline points="498.7,108.3 507.0,104.0 515.8,102.6" fill="none" stroke="#fff" stroke-width="0.9"/><polyline points="514.0,167.3 517.7,175.0" fill="none" stroke="#fff" stroke-width="0.9"/><polyline points="546.0,44.0 556.0,40.0" fill="none" stroke="#fff" stroke-width="0.9"/><polyline points="538.0,54.0 548.0,50.0" fill="none" stroke="#fff" stroke-width="0.9"/><polyline points="526.0,72.0 536.0,67.0" fill="none" stroke="#fff" stroke-width="0.9"/><polyline points="514.0,86.0 524.0,80.0" fill="none" stroke="#fff" stroke-width="0.9"/><polyline points="492.0,106.0 504.0,102.0" fill="none" stroke="#fff" stroke-width="0.9"/><polyline points="570.0,24.0 580.0,21.0" fill="none" stroke="#fff" stroke-width="0.9"/><polyline points="592.0,11.0 600.0,9.0" fill="none" stroke="#fff" stroke-width="0.9"/><polyline points="333.0,14.0 338.5,20.5" fill="none" stroke="#fff" stroke-width="0.9"/><polyline points="368.5,22.0 369.0,28.0" fill="none" stroke="#fff" stroke-width="0.9"/><polyline points="357.0,21.0 357.5,26.0" fill="none" stroke="#fff" stroke-width="0.9"/><polyline points="348.0,19.5 348.5,25.0" fill="none" stroke="#fff" stroke-width="0.9"/><polyline points="376.0,25.0 375.0,30.0" fill="none" stroke="#fff" stroke-width="0.9"/><polyline points="488.0,208.5 494.0,207.0 499.0,206.0 505.0,204.5" fill="none" stroke="#fff" stroke-width="0.9"/><circle cx="541.25" cy="173.75" r="5.6" fill="#064b9e"/><text transform="translate(541.25,176.35) scale(0.8,1)" class="lb">SE</text><circle cx="501.25" cy="200.5" r="5.6" fill="#064b9e"/><text transform="translate(501.25,203.10) scale(0.8,1)" class="lb">DK</text><circle cx="642" cy="124.25" r="5.6" fill="#064b9e"/><text transform="translate(642.00,126.85) scale(0.8,1)" class="lb">FI</text><circle cx="643.75" cy="173.25" r="5.6" fill="#064b9e"/><text transform="translate(643.75,175.85) scale(0.8,1)" class="lb">EE</text><circle cx="655.5" cy="205.5" r="5.6" fill="#064b9e"/><text transform="translate(655.50,208.10) scale(0.8,1)" class="lb">LV</text><circle cx="636.25" cy="225.5" r="5.6" fill="#064b9e"/><text transform="translate(636.25,228.10) scale(0.8,1)" class="lb">LT</text><circle cx="343" cy="251.25" r="5.6" fill="#064b9e"/><text transform="translate(343.00,253.85) scale(0.8,1)" class="lb">IE</text><circle cx="402.5" cy="260.5" r="5.6" fill="#064b9e"/><text transform="translate(402.50,263.10) scale(0.8,1)" class="lb">UK</text><circle cx="440" cy="339.5" r="5.6" fill="#064b9e"/><text transform="translate(440.00,342.10) scale(0.8,1)" class="lb">FR</text><circle cx="467.5" cy="260.5" r="5.6" fill="#064b9e"/><text transform="translate(467.50,263.10) scale(0.8,1)" class="lb">NL</text><circle cx="455.3" cy="285.4" r="5.6" fill="#064b9e"/><text transform="translate(455.30,288.00) scale(0.8,1)" class="lb">BE</text><circle cx="474" cy="295.8" r="5.6" fill="#064b9e"/><text transform="translate(474.00,298.40) scale(0.8,1)" class="lb">LU</text><circle cx="498.75" cy="284.25" r="5.6" fill="#064b9e"/><text transform="translate(498.75,286.85) scale(0.8,1)" class="lb">DE</text><circle cx="545" cy="300.5" r="5.6" fill="#064b9e"/><text transform="translate(545.00,303.10) scale(0.8,1)" class="lb">CZ</text><circle cx="583.75" cy="271.75" r="5.6" fill="#064b9e"/><text transform="translate(583.75,274.35) scale(0.8,1)" class="lb">PL</text><circle cx="583.75" cy="315" r="5.6" fill="#064b9e"/><text transform="translate(583.75,317.60) scale(0.8,1)" class="lb">SK</text><circle cx="550" cy="325.75" r="5.6" fill="#064b9e"/><text transform="translate(550.00,328.35) scale(0.8,1)" class="lb">AT</text><circle cx="550" cy="344.5" r="5.6" fill="#064b9e"/><text transform="translate(550.00,347.10) scale(0.8,1)" class="lb">SI</text><circle cx="563" cy="353.25" r="5.6" fill="#064b9e"/><text transform="translate(563.00,355.85) scale(0.8,1)" class="lb">HR</text><circle cx="583.75" cy="335" r="5.6" fill="#064b9e"/><text transform="translate(583.75,337.60) scale(0.8,1)" class="lb">HU</text><circle cx="525" cy="387.5" r="5.6" fill="#064b9e"/><text transform="translate(525.00,390.10) scale(0.8,1)" class="lb">IT</text><circle cx="636.25" cy="350.75" r="5.6" fill="#064b9e"/><text transform="translate(636.25,353.35) scale(0.8,1)" class="lb">RO</text><circle cx="635" cy="394.5" r="5.6" fill="#064b9e"/><text transform="translate(635.00,397.10) scale(0.8,1)" class="lb">BG</text><circle cx="609.5" cy="428.25" r="5.6" fill="#064b9e"/><text transform="translate(609.50,430.85) scale(0.8,1)" class="lb">EL</text><circle cx="700" cy="486.25" r="5.6" fill="#064b9e"/><text transform="translate(700.00,488.85) scale(0.8,1)" class="lb">CY</text><circle cx="537.5" cy="483.25" r="5.6" fill="#064b9e"/><text transform="translate(537.50,485.85) scale(0.8,1)" class="lb">MT</text><circle cx="342.5" cy="419.5" r="5.6" fill="#064b9e"/><text transform="translate(342.50,422.10) scale(0.8,1)" class="lb">PT</text><circle cx="383.75" cy="419.5" r="5.6" fill="#064b9e"/><text transform="translate(383.75,422.10) scale(0.8,1)" class="lb">ES</text>
</svg>
<div class="time">TIME</div>
</body></html>
